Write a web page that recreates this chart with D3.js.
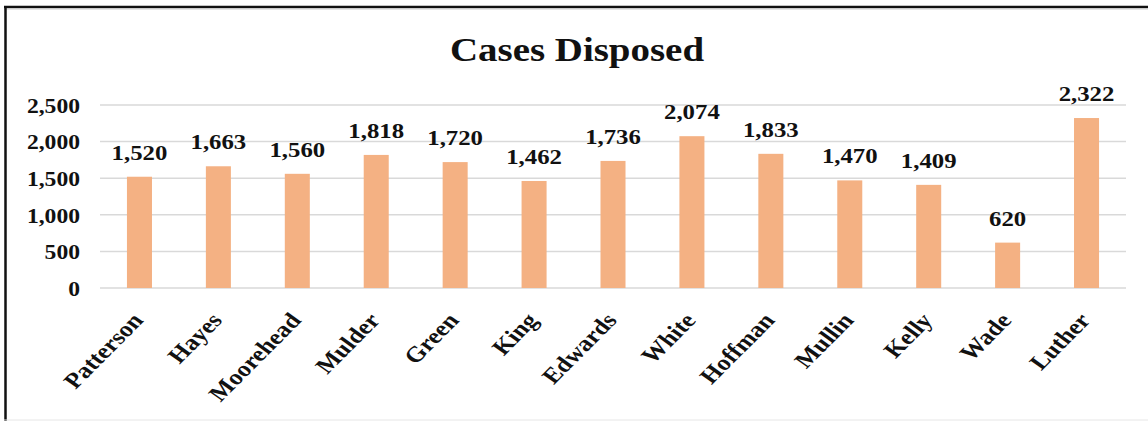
<!DOCTYPE html>
<html>
<head>
<meta charset="utf-8">
<script src="https://cdn.jsdelivr.net/npm/d3@7"></script>
<style>
  body { margin: 0; background: #fff; }
  svg { display: block; }
  text { font-family: "Liberation Serif", "Times New Roman", serif; font-weight: bold; fill: #111; }
</style>
</head>
<body>
<svg id="chart"></svg>
<script>
// data
var judges = ["Patterson", "Hayes", "Moorehead", "Mulder", "Green", "King", "Edwards",
              "White", "Hoffman", "Mullin", "Kelly", "Wade", "Luther"];
var disposed = [1520, 1663, 1560, 1818, 1720, 1462, 1736, 2074, 1833, 1470, 1409, 620, 2322];
var yTicks = [0, 500, 1000, 1500, 2000, 2500];
var chartTitle = "Cases Disposed";

var W = 1148, H = 421;
// the original chart is stretched sideways, so draw in narrow units and widen the group
var sx = 1.18;
// label angle inside the group so that it shows as 45 degrees after the stretch
var labelAngle = Math.atan(sx) * 180 / Math.PI;

var svg = d3.select("#chart").attr("width", W).attr("height", H);

// frame (black top + left edge, faint bottom)
svg.append("line").attr("x1", 4).attr("x2", W).attr("y1", 7).attr("y2", 7)
    .attr("stroke", "#111").attr("stroke-width", 2.5);
svg.append("line").attr("x1", 4).attr("x2", W).attr("y1", 9).attr("y2", 9)
    .attr("stroke", "#ccc").attr("stroke-width", 1);
svg.append("line").attr("x1", 5.5).attr("x2", 5.5).attr("y1", 6).attr("y2", H)
    .attr("stroke", "#111").attr("stroke-width", 2.5);
svg.append("line").attr("x1", 4).attr("x2", W).attr("y1", 420).attr("y2", 420)
    .attr("stroke", "#e6e6e6").attr("stroke-width", 1);

var g = svg.append("g").attr("transform", "scale(" + sx + ",1)");

var x = d3.scaleBand()
    .domain(judges)
    .range([100 / sx, 1126 / sx])
    .paddingInner(0.683)
    .paddingOuter(0.3415);
var y = d3.scaleLinear().domain([0, 2500]).range([288, 105]);

// title
g.append("text")
    .attr("x", 577 / sx).attr("y", 61)
    .attr("text-anchor", "middle")
    .style("font-size", "33px")
    .text(chartTitle);

// gridlines
g.append("g").selectAll("line")
    .data(yTicks)
    .enter().append("line")
    .attr("x1", 100 / sx).attr("x2", 1126 / sx)
    .attr("y1", function (d) { return y(d); })
    .attr("y2", function (d) { return y(d); })
    .attr("stroke", "#d9d9d9")
    .attr("stroke-width", 1.5);

// y axis labels
var yAxis = d3.axisLeft(y).tickValues(yTicks).tickSize(0).tickPadding(0)
    .tickFormat(d3.format(","));
var yg = g.append("g").attr("transform", "translate(" + (80 / sx) + ",0)").call(yAxis);
yg.select(".domain").remove();
yg.selectAll("text").style("font-size", "20px").attr("fill", "#111")
    .style("font-family", "'Liberation Serif', serif").attr("dy", "0.36em");

// bars
g.append("g").selectAll("rect")
    .data(disposed)
    .enter().append("rect")
    .attr("x", function (d, i) { return x(judges[i]); })
    .attr("width", x.bandwidth())
    .attr("y", function (d) { return y(d); })
    .attr("height", function (d) { return y(0) - y(d); })
    .attr("fill", "#f4b183");

// value labels
g.append("g").selectAll("text")
    .data(disposed)
    .enter().append("text")
    .attr("x", function (d, i) { return x(judges[i]) + x.bandwidth() / 2; })
    .attr("y", function (d) { return y(d) - 17; })
    .attr("text-anchor", "middle")
    .style("font-size", "21px")
    .text(d3.format(","));

// category labels, rotated
var xAxis = d3.axisBottom(x).tickSize(0).tickPadding(0);
var xg = g.append("g").attr("transform", "translate(0," + y(0) + ")").call(xAxis);
xg.select(".domain").remove();
xg.selectAll("text")
    .style("font-size", "22px")
    .style("font-family", "'Liberation Serif', serif")
    .attr("fill", "#111")
    .attr("text-anchor", "end")
    .attr("dy", 0)
    .attr("y", 0)
    .attr("transform", "translate(" + (5 / sx) + ",33) rotate(" + (-labelAngle) + ")");
</script>
</body>
</html>
